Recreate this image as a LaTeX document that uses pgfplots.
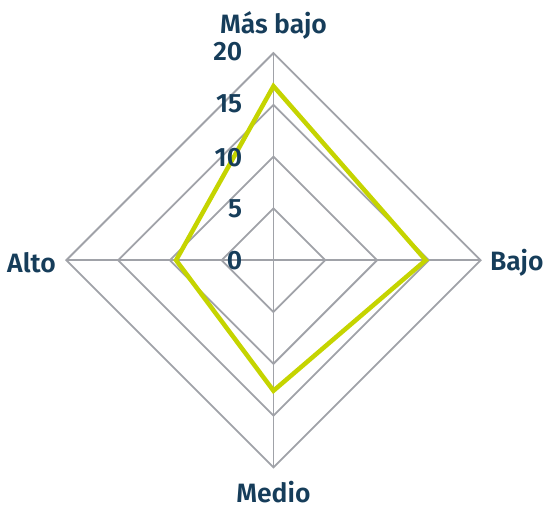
\documentclass[border=0pt]{standalone}
\usepackage{pgfplots}
\pgfplotsset{compat=1.18}
\usepackage{fontspec}
\setmainfont{Fira Sans}[BoldFont={Fira Sans SemiBold}]
\definecolor{navy}{HTML}{163D5A}
\definecolor{gridgray}{HTML}{A0A2A8}
\definecolor{lime}{HTML}{C5D400}
\tikzset{
  ring/.style={draw=gridgray, line width=1.8pt, line join=miter},
  lbl/.style={font=\fontsize{26.5}{29}\selectfont\bfseries, text=navy, inner sep=0pt}
}
\begin{document}
\begin{tikzpicture}
\begin{axis}[
  x=10.35pt, y=10.35pt,
  xmin=-26.4, xmax=26.6, ymin=-24.06, ymax=25.12,
  hide axis, clip=false
]
% keep the full frame of the reference
\path (axis cs:-26.4,-24.06) rectangle (axis cs:26.6,25.12);
% diamond rings at 5, 10, 15, 20
\addplot[ring] coordinates {(0,5) (5,0) (0,-5) (-5,0) (0,5)} -- cycle;
\addplot[ring] coordinates {(0,10) (10,0) (0,-10) (-10,0) (0,10)} -- cycle;
\addplot[ring] coordinates {(0,15) (15,0) (0,-15) (-15,0) (0,15)} -- cycle;
\addplot[ring] coordinates {(0,20) (20,0) (0,-20) (-20,0) (0,20)} -- cycle;
% spokes
\addplot[ring] coordinates {(0,-20) (0,20)};
\addplot[ring] coordinates {(-20,0) (20,0)};
% series: Más bajo, Bajo, Medio, Alto
\addplot[draw=lime, line width=4.5pt, line join=miter] coordinates {(0,16.8) (14.7,0) (0,-12.6) (-9.4,0) (0,16.8)} -- cycle;
% scale labels
\node[lbl, anchor=east] at (axis cs:-3.0,20.1) {20};
\node[lbl, anchor=east] at (axis cs:-3.0,15.1) {15};
\node[lbl, anchor=east] at (axis cs:-3.0,9.95) {10};
\node[lbl, anchor=east] at (axis cs:-3.0,5.0) {5};
\node[lbl, anchor=east] at (axis cs:-3.0,0.0) {0};
% category labels
\node[lbl] at (axis cs:0,22.7) {Más bajo};
\node[lbl, anchor=west] at (axis cs:20.9,-0.2) {Bajo};
\node[lbl, anchor=east] at (axis cs:-21.0,-0.2) {Alto};
\node[lbl] at (axis cs:0,-22.4) {Medio};
\end{axis}
\end{tikzpicture}
\end{document}
